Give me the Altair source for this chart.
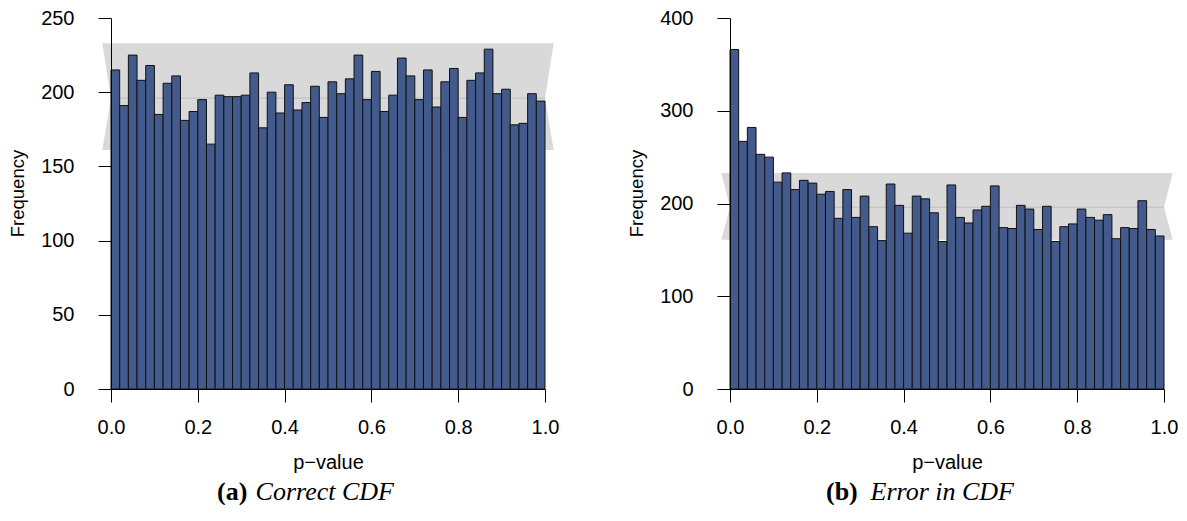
import altair as alt
import pandas as pd

# Histogram counts for 50 equal-width p-value bins on [0, 1]
correct_counts = [215, 191, 225, 208, 218, 185, 206, 211, 181, 187,
                  195, 165, 198, 197, 197, 198, 213, 176, 200, 186,
                  205, 188, 193, 204, 183, 207, 199, 209, 225, 195,
                  214, 187, 198, 223, 211, 195, 215, 190, 207, 216,
                  183, 208, 213, 229, 199, 202, 178, 179, 199, 194]
error_counts = [366, 267, 282, 253, 250, 223, 233, 215, 225, 222,
                210, 213, 184, 215, 185, 208, 175, 160, 221, 198,
                168, 208, 205, 190, 159, 220, 185, 179, 193, 197,
                219, 174, 173, 198, 194, 172, 197, 159, 175, 178,
                194, 185, 182, 188, 162, 174, 173, 203, 172, 165]

# Expected-count band (lower, centre, upper) shared by both panels
band_lower, band_mid, band_upper = 161, 196, 233
band_overhang = 0.02

x_ticks = [0.0, 0.2, 0.4, 0.6, 0.8, 1.0]
y_ticks_a = [0, 50, 100, 150, 200, 250]
y_ticks_b = [0, 100, 200, 300, 400]

BAR_FILL = "#435a8d"
BAND_FILL = "#d9d9d9"
MID_LINE = "#bdbdbd"
SANS = "Liberation Sans"
SERIF = "Liberation Serif"
W, H = 434, 371


def panel(counts, y_ticks, tag, caption, cap_left, cap_right):
    n = len(counts)
    edges = [i / n for i in range(n + 1)]
    bars = pd.DataFrame({"lo": edges[:-1], "hi": edges[1:], "count": counts})
    band = pd.DataFrame({
        "y": [band_lower, band_mid, band_upper],
        "x": [-band_overhang, 0.0, -band_overhang],
        "x2": [1 + band_overhang, 1.0, 1 + band_overhang],
    })
    mid = pd.DataFrame({"y": [band_mid], "x": [0.0], "x2": [1.0]})

    xscale = alt.Scale(domain=[0, 1], nice=False, zero=False)
    yscale = alt.Scale(domain=[0, y_ticks[-1]], nice=False)
    xaxis = alt.Axis(values=x_ticks, format=".1f", title="p−value",
                     ticks=True, domain=True, tickSize=13, labelPadding=15,
                     labelFlush=False, labelFontSize=20,
                     titleFontSize=20, titleFontWeight="normal",
                     titleY=79, titleBaseline="alphabetic", grid=False,
                     zindex=1)
    yaxis = alt.Axis(values=y_ticks, format="d", title="Frequency",
                     ticks=True, domain=True, tickSize=13, labelPadding=24,
                     labelFlush=False, labelFontSize=20,
                     titleFontSize=18.5, titleFontWeight="normal",
                     titleAngle=270, titleX=-88, titleY=175,
                     titleBaseline="alphabetic", grid=False, zindex=1)

    band_layer = alt.Chart(band).mark_area(
        orient="horizontal", color=BAND_FILL, opacity=1
    ).encode(
        y=alt.Y("y:Q", scale=yscale, axis=yaxis),
        x=alt.X("x:Q", scale=xscale, axis=xaxis),
        x2="x2:Q",
    )
    mid_layer = alt.Chart(mid).mark_rule(color=MID_LINE, strokeWidth=1).encode(
        y=alt.Y("y:Q", scale=yscale, axis=yaxis),
        x=alt.X("x:Q", scale=xscale, axis=xaxis),
        x2="x2:Q",
    )
    bar_layer = alt.Chart(bars).mark_rect(
        color=BAR_FILL, stroke="#111111", strokeWidth=1, opacity=1
    ).encode(
        x=alt.X("lo:Q", scale=xscale, axis=xaxis),
        x2="hi:Q",
        y=alt.Y("count:Q", scale=yscale, axis=yaxis),
        y2=alt.datum(0),
    )
    cap_df = pd.DataFrame({"tag": [tag], "cap": [caption]})
    tag_layer = alt.Chart(cap_df).mark_text(
        font=SERIF, fontWeight="bold", fontSize=26, align="left",
        baseline="alphabetic", color="black"
    ).encode(text="tag:N", x=alt.value(cap_left), y=alt.value(482))
    cap_layer = alt.Chart(cap_df).mark_text(
        font=SERIF, fontStyle="italic", fontSize=26, align="right",
        baseline="alphabetic", color="black"
    ).encode(text="cap:N", x=alt.value(cap_right), y=alt.value(482))

    return alt.layer(band_layer, mid_layer, bar_layer, tag_layer, cap_layer).properties(
        width=W, height=H
    )


left = panel(correct_counts, y_ticks_a, "(a)", "Correct CDF", 106, 283)
right = panel(error_counts, y_ticks_b, "(b)", "Error in CDF", 96, 284)

chart = alt.hconcat(left, right, spacing=185, bounds="flush").properties(
    padding={"left": 8, "top": 8, "right": 0, "bottom": 0},
).configure_view(stroke=None).configure_axis(
    labelFont=SANS, titleFont=SANS, labelColor="black", titleColor="black",
    domainColor="black", tickColor="black", domainWidth=1, tickWidth=1,
)

chart.save("out.html", embed_options={"renderer": "svg", "actions": False})
